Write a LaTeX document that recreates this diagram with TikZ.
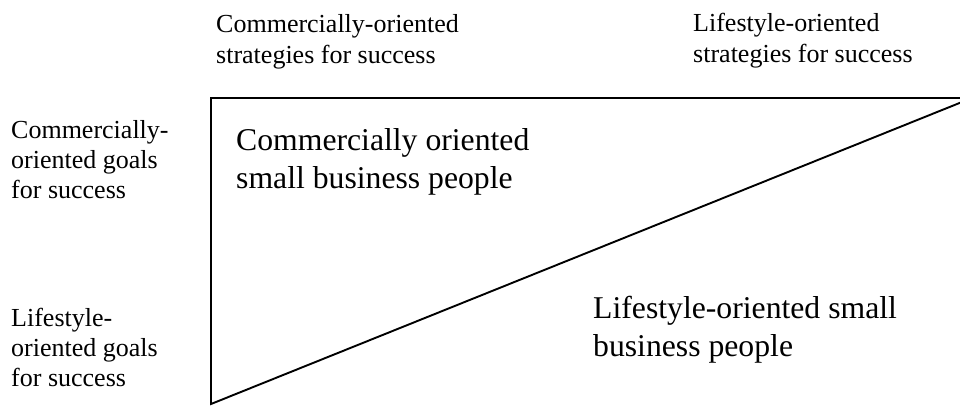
\documentclass[tikz,border=0pt]{standalone}
\usepackage{fontspec}
\setmainfont{Liberation Serif}
\begin{document}
\begin{tikzpicture}[x=1pt,y=-1pt,
  small/.style={anchor=base west,inner sep=0pt,font=\fontsize{26}{30}\selectfont},
  big/.style={anchor=base west,inner sep=0pt,font=\fontsize{31.7}{38}\selectfont},
  edge/.style={line width=1.9pt,line cap=round}]
\useasboundingbox (0,0) rectangle (960,405);
% frame
\coordinate (tl) at (211,98);
\coordinate (tr) at (962,98);
\coordinate (bl) at (211,404);
\coordinate (dr) at (962,102);
\draw[edge] (tr) -- (tl) -- (bl) -- (dr);
% top labels
\node[small] (t1a) at (216,32) {Commercially-oriented};
\node[small] (t1b) at (216,63) {strategies for success};
\node[small] (t2a) at (693,31) {Lifestyle-oriented};
\node[small] (t2b) at (693,62) {strategies for success};
% left labels
\node[small] (l1a) at (11,138) {Commercially-};
\node[small] (l1b) at (11,168) {oriented goals};
\node[small] (l1c) at (11,198) {for success};
\node[small] (l2a) at (11,326) {Lifestyle-};
\node[small] (l2b) at (11,356) {oriented goals};
\node[small] (l2c) at (11,386) {for success};
% region labels
\node[big] (c1) at (236,150) {Commercially oriented};
\node[big] (c2) at (236,188) {small business people};
\node[big] (s1) at (593,318) {Lifestyle-oriented small};
\node[big] (s2) at (593,356) {business people};
\end{tikzpicture}
\end{document}
